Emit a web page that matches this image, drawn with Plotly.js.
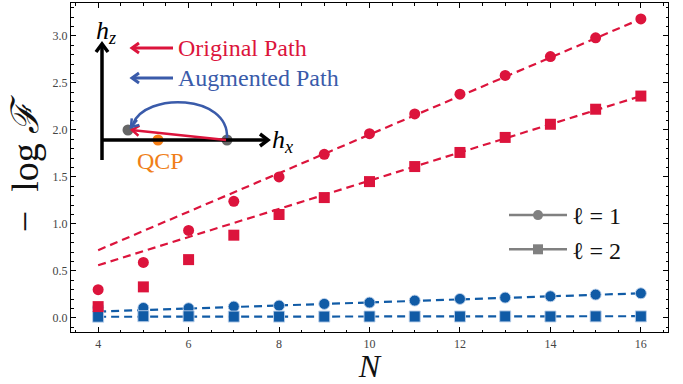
<!DOCTYPE html>
<html>
<head>
<meta charset="utf-8">
<script src="https://cdn.plot.ly/plotly-3.0.1.min.js"></script>
<style>
  html, body { margin: 0; padding: 0; background: #fff; }
  #chart { width: 683px; height: 384px; }
</style>
</head>
<body>
<div id="chart"></div>
<script>
// System sizes
const sizesN = [4, 5, 6, 7, 8, 9, 10, 11, 12, 13, 14, 15, 16];

// -log F along the original path (red) and the augmented path (blue)
const originalL1 = [0.30, 0.59, 0.93, 1.24, 1.50, 1.74, 1.96, 2.17, 2.38, 2.58, 2.78, 2.98, 3.18];
const originalL2 = [0.12, 0.33, 0.62, 0.88, 1.10, 1.28, 1.45, 1.61, 1.76, 1.92, 2.06, 2.22, 2.36];
const augmentedL1 = [0.11, 0.106, 0.103, 0.12, 0.131, 0.149, 0.163, 0.184, 0.202, 0.216, 0.23, 0.248, 0.262];
const augmentedL2 = [0.013, 0.018, 0.017, 0.014, 0.014, 0.014, 0.015, 0.015, 0.015, 0.016, 0.015, 0.016, 0.016];

// Linear fits (dashed), evaluated at the end points
const fitN = [4, 16];
const fitOriginalL1 = [0.72, 3.18];
const fitOriginalL2 = [0.56, 2.36];
const fitAugmentedL1 = [0.067, 0.262];
const fitAugmentedL2 = [0.012, 0.018];

// Legend labels and tick values
const legendLabels = ['ℓ = 1', 'ℓ = 2'];
const xTicks = [4, 6, 8, 10, 12, 14, 16];

const RED = '#DC143C';
const BLUE = '#105BA6';
const SKETCH_BLUE = '#3A5BAA';
const SERIF = '"Liberation Serif", "DejaVu Serif", serif';
const DASH = '8px,5px';

function fitTrace(y, color) {
  return { x: fitN, y: y, mode: 'lines', showlegend: false, hoverinfo: 'skip',
           line: { color: color, width: 2.2, dash: DASH } };
}
function markTrace(y, color, symbol, edge) {
  return { x: sizesN, y: y, mode: 'markers', showlegend: false,
           marker: { color: color, symbol: symbol, size: 11,
                     line: { color: edge, width: 1 } } };
}

const traces = [
  fitTrace(fitAugmentedL1, BLUE),
  fitTrace(fitAugmentedL2, BLUE),
  markTrace(augmentedL1, BLUE, 'circle', 'rgba(190,210,235,0.9)'),
  markTrace(augmentedL2, BLUE, 'square', 'rgba(190,210,235,0.9)'),
  fitTrace(fitOriginalL1, RED),
  fitTrace(fitOriginalL2, RED),
  markTrace(originalL1, RED, 'circle', 'rgba(255,255,255,0)'),
  markTrace(originalL2, RED, 'square', 'rgba(255,255,255,0)'),
  // legend entries (marker shape = ℓ)
  { x: [null], y: [null], mode: 'lines+markers', name: legendLabels[0],
    line: { color: '#808080', width: 2.5 }, marker: { symbol: 'circle', size: 10, color: '#808080' } },
  { x: [null], y: [null], mode: 'lines+markers', name: legendLabels[1],
    line: { color: '#808080', width: 2.5 }, marker: { symbol: 'square', size: 10, color: '#808080' } }
];

// plot-area geometry in pixels, used to place the inset sketch
const M = { l: 71, r: 15, t: 3, b: 52 };
const W = 683, H = 384;
const PW = W - M.l - M.r, PH = H - M.t - M.b;
const px = x => (x - M.l) / PW;
const py = y => (H - M.b - y) / PH;
const pt = (x, y) => `${px(x)} ${py(y)}`;

// arrow = straight shaft + open chevron head, drawn as paper-space paths
function arrowShapes(tailX, tailY, tipX, tipY, color, width, headLen, headHalf) {
  const dx = tipX - tailX, dy = tipY - tailY;
  const L = Math.hypot(dx, dy), ux = dx / L, uy = dy / L;
  const bx = tipX - ux * headLen, by = tipY - uy * headLen;
  const ax1 = bx - uy * headHalf, ay1 = by + ux * headHalf;
  const ax2 = bx + uy * headHalf, ay2 = by - ux * headHalf;
  const line = { color: color, width: width };
  return [
    { type: 'path', xref: 'paper', yref: 'paper', line: line,
      path: `M ${pt(tailX, tailY)} L ${pt(tipX - ux * 1.5, tipY - uy * 1.5)}` },
    { type: 'path', xref: 'paper', yref: 'paper', line: line,
      path: `M ${pt(ax1, ay1)} L ${pt(tipX, tipY)} L ${pt(ax2, ay2)}` }
  ];
}
function label(text, x, y, color, size, anchor) {
  return { xref: 'paper', yref: 'paper', x: px(x), y: py(y), text: text, showarrow: false,
           xanchor: anchor || 'left', yanchor: 'middle',
           font: { family: SERIF, size: size, color: color } };
}
function dot(x, y, r, color) {
  return { type: 'circle', xref: 'paper', yref: 'paper', xsizemode: 'pixel', ysizemode: 'pixel',
           xanchor: px(x), yanchor: py(y), x0: -r, x1: r, y0: -r, y1: r,
           fillcolor: color, line: { width: 0 } };
}

// curved augmented path as a cubic Bezier in paper coordinates
const arcPath = `M ${pt(227, 138)} C ${pt(229, 94)}, ${pt(145, 92)}, ${pt(133, 124)}`;

const shapes = [
  dot(158, 140, 5.5, '#F57D14'),
  dot(128, 130, 5.5, '#666666'),
  dot(227, 140, 5.5, '#666666'),
  { type: 'path', xref: 'paper', yref: 'paper', path: arcPath,
    line: { color: SKETCH_BLUE, width: 2.5 } },
  // h_z and h_x axes of the sketch
  ...arrowShapes(102, 160, 102, 44, '#000', 3.5, 8, 6),
  ...arrowShapes(102, 140, 268, 140, '#000', 3.5, 8, 6),
  // key for the two paths
  ...arrowShapes(173, 48, 132, 48, RED, 3, 7, 5),
  ...arrowShapes(173, 78, 132, 78, SKETCH_BLUE, 3, 7, 5),
  // straight original path and head of the curved augmented path
  ...arrowShapes(226, 140, 132, 130, RED, 2.5, 7, 5),
  ...arrowShapes(137, 120, 131, 127, SKETCH_BLUE, 2.5, 7, 5)
];

const layout = {
  width: W, height: H,
  margin: M,
  paper_bgcolor: '#fff', plot_bgcolor: '#fff',
  font: { family: SERIF, color: '#333' },
  showlegend: true,
  legend: { x: px(504), y: py(193), xanchor: 'left', yanchor: 'top',
            bgcolor: 'rgba(0,0,0,0)', itemwidth: 58, tracegroupgap: 0,
            font: { family: SERIF, size: 24, color: '#111' } },
  xaxis: {
    range: [3.4, 16.6], tickvals: xTicks, ticks: 'inside', ticklen: 5, tickwidth: 1,
    tickcolor: '#000', showline: true, linecolor: '#000', linewidth: 1.2, mirror: 'allticks',
    showgrid: false, zeroline: false,
    minor: { dtick: 0.5, ticks: 'inside', ticklen: 2.5, tickcolor: '#000', showgrid: false },
    tickfont: { family: SERIF, size: 12, color: '#444' },
    title: { text: '<i>N</i>', font: { family: SERIF, size: 32, color: '#111' }, standoff: 4 }
  },
  yaxis: {
    range: [-0.15, 3.35], dtick: 0.5, tick0: 0, tickformat: '.1f', ticks: 'inside', ticklen: 5,
    tickwidth: 1, tickcolor: '#000', showline: true, linecolor: '#000', linewidth: 1.2,
    mirror: 'allticks', showgrid: false, zeroline: false,
    minor: { dtick: 0.1, ticks: 'inside', ticklen: 2.5, tickcolor: '#000', showgrid: false },
    tickfont: { family: SERIF, size: 12, color: '#444' },
    title: { text: '−\u2002log <i>ℱ</i>', font: { family: SERIF, size: 38, color: '#111' }, standoff: 2 }
  },
  shapes: shapes,
  annotations: [
    label('<i>h</i><sub><i>z</i></sub>', 94, 32, '#000', 26),
    label('<i>h</i><sub><i>x</i></sub>', 270, 141, '#000', 26),
    label('Original Path', 176, 48, RED, 24),
    label('Augmented Path', 176, 78, SKETCH_BLUE, 24),
    label('QCP', 160, 161, '#F07F1A', 24, 'center')
  ]
};

Plotly.newPlot('chart', traces, layout, { displayModeBar: false, staticPlot: true });
</script>
</body>
</html>
